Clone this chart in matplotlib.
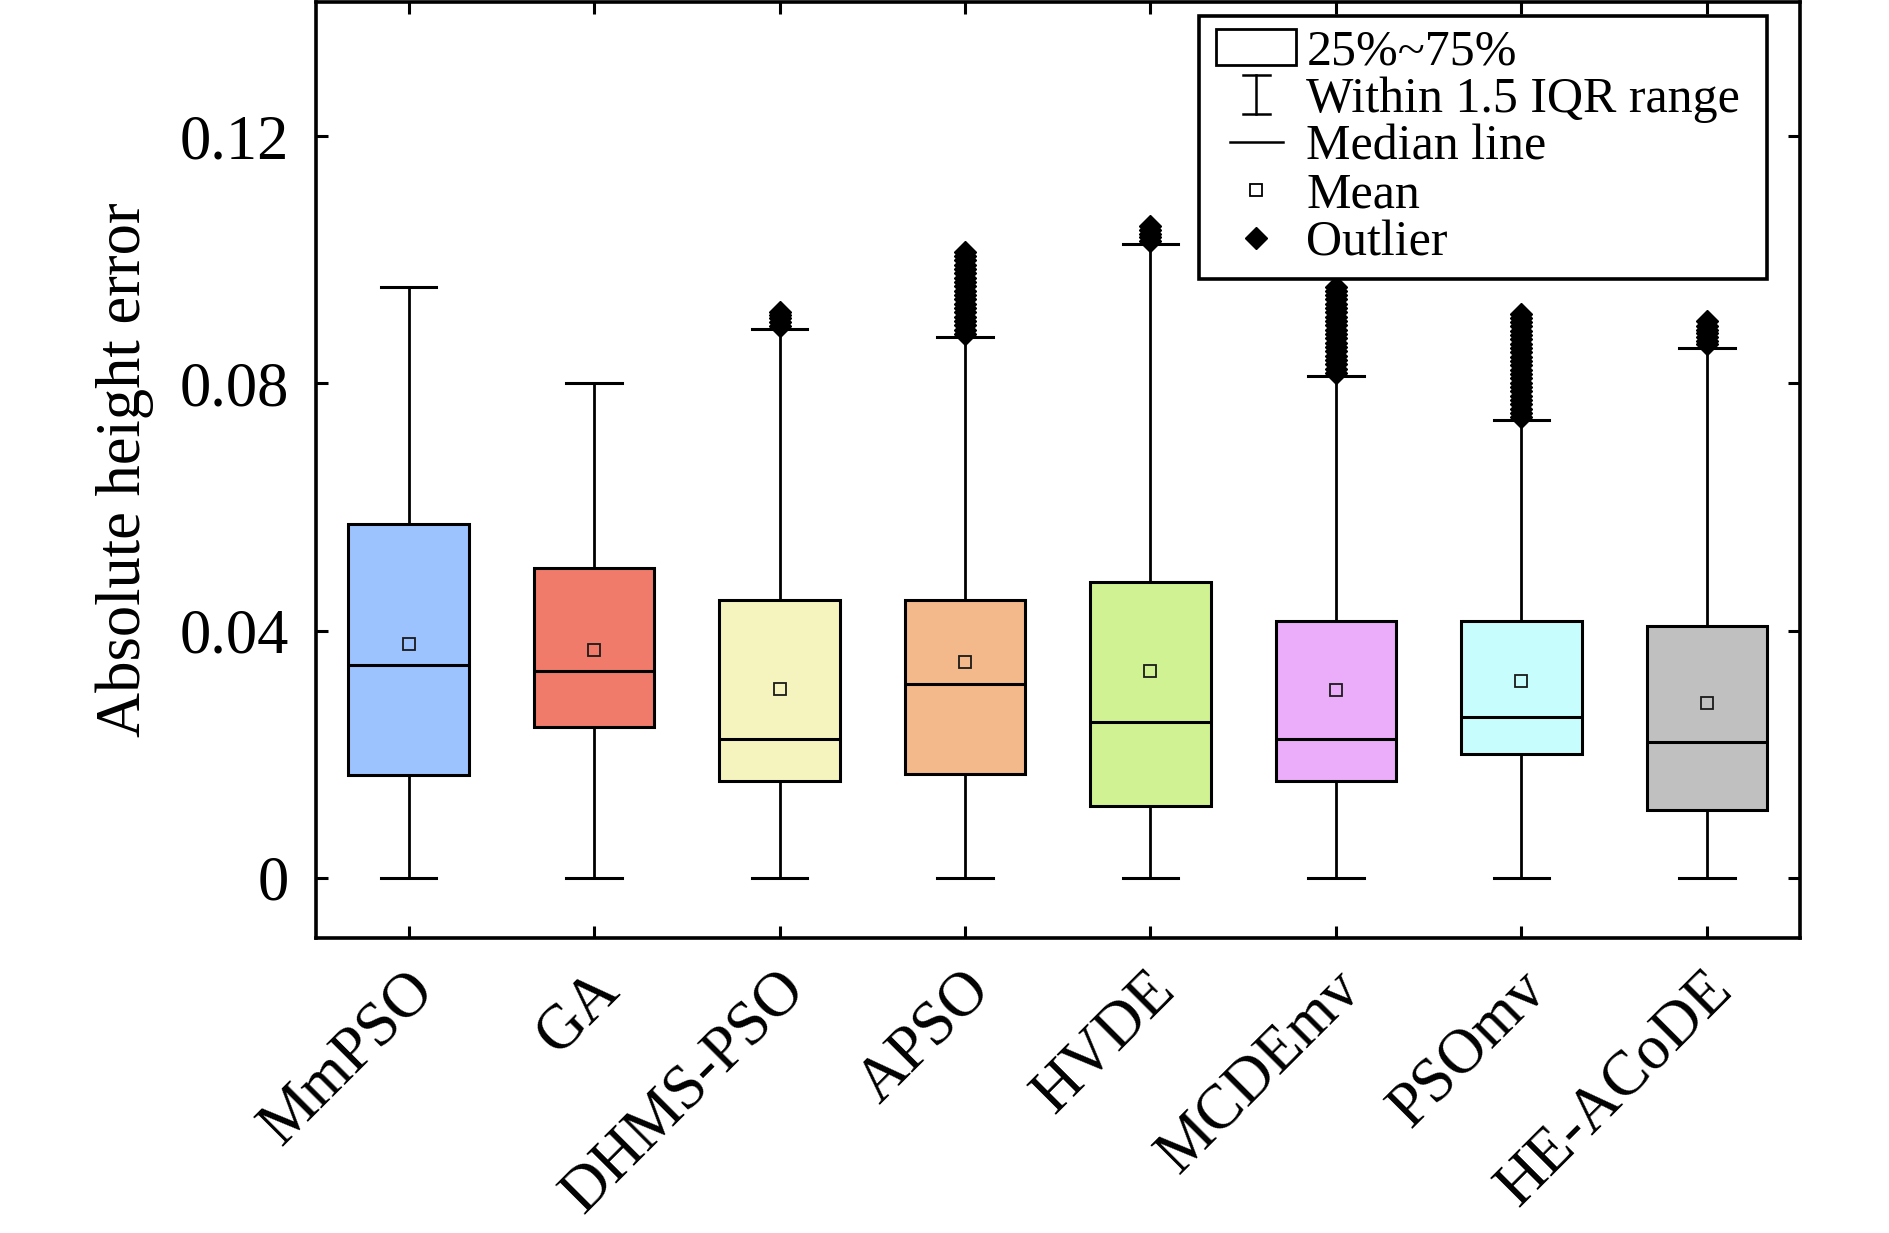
import matplotlib
matplotlib.use("Agg")
import matplotlib.pyplot as plt
from matplotlib.patches import Rectangle
from matplotlib.lines import Line2D
from matplotlib.legend_handler import HandlerBase
from matplotlib.transforms import ScaledTranslation

plt.rcParams['font.family'] = ['Liberation Serif', 'DejaVu Serif']

# ---------------- data ----------------
categories = ["MmPSO", "GA", "DHMS-PSO", "APSO", "HVDE", "MCDEmv", "PSOmv", "HE-ACoDE"]
q1      = [0.0166, 0.0244, 0.0156, 0.0168, 0.0117, 0.0156, 0.0201, 0.0109]
median  = [0.0345, 0.0334, 0.0224, 0.0314, 0.0252, 0.0224, 0.0261, 0.0219]
q3      = [0.0572, 0.0501, 0.0449, 0.0449, 0.0478, 0.0416, 0.0416, 0.0408]
whislo  = [0.0, 0.0, 0.0, 0.0, 0.0, 0.0, 0.0, 0.0]
whishi  = [0.0956, 0.0800, 0.0888, 0.0875, 0.1025, 0.0812, 0.0740, 0.0858]
means   = [0.0379, 0.0369, 0.0306, 0.0349, 0.0334, 0.0304, 0.0318, 0.0283]
outliers = [
    [],
    [],
    [0.0893, 0.0899, 0.0905, 0.0911, 0.0916],
    [0.0880, 0.0887, 0.0894, 0.0901, 0.0908, 0.0915, 0.0922, 0.0929, 0.0936,
     0.0943, 0.0950, 0.0957, 0.0964, 0.0971, 0.0978, 0.0985, 0.0992, 0.0999,
     0.1006, 0.1013],
    [0.1030, 0.1036, 0.1042, 0.1048, 0.1054],
    [0.0817, 0.0824, 0.0831, 0.0838, 0.0845, 0.0852, 0.0859, 0.0866, 0.0873,
     0.0880, 0.0887, 0.0894, 0.0901, 0.0908, 0.0915, 0.0922, 0.0929, 0.0936,
     0.0943, 0.0950, 0.0956],
    [0.0745, 0.0752, 0.0759, 0.0766, 0.0773, 0.0780, 0.0787, 0.0794, 0.0801,
     0.0808, 0.0815, 0.0822, 0.0829, 0.0836, 0.0843, 0.0850, 0.0857, 0.0864,
     0.0871, 0.0878, 0.0885, 0.0892, 0.0899, 0.0906, 0.0913],
    [0.0863, 0.0869, 0.0875, 0.0881, 0.0887, 0.0893, 0.0901],
]
colors = ["#9DC3FE", "#F07B6A", "#F6F4BE", "#F4B98A", "#D1F292", "#EBADFA", "#C8FDFE", "#C0C0C0"]
ytick_values = [0, 0.04, 0.08, 0.12]
ytick_labels = ["0", "0.04", "0.08", "0.12"]
ylabel = "Absolute height error"
legend_labels = ["25%~75%", "Within 1.5 IQR range", "Median line", "Mean", "Outlier"]

# ---------------- figure ----------------
fig = plt.figure(figsize=(18.9, 12.33), dpi=100)
ax = fig.add_axes([0.1671, 0.2394, 0.7851, 0.7590])

stats = []
for i in range(len(categories)):
    stats.append(dict(label=categories[i], q1=q1[i], med=median[i], q3=q3[i],
                      whislo=whislo[i], whishi=whishi[i], mean=means[i],
                      fliers=outliers[i]))

positions = list(range(1, len(categories) + 1))
bp = ax.bxp(stats, positions=positions, widths=0.65, capwidths=0.3,
            patch_artist=True, showmeans=True, showfliers=True,
            boxprops=dict(linewidth=2.2, edgecolor='black'),
            whiskerprops=dict(linewidth=2.0, color='black'),
            capprops=dict(linewidth=2.2, color='black'),
            medianprops=dict(linewidth=2.2, color='black'),
            meanprops=dict(marker='s', markersize=8, markerfacecolor='none',
                           markeredgecolor='#1a1a1a', markeredgewidth=1.3),
            flierprops=dict(marker='D', markersize=11, markerfacecolor='black',
                            markeredgecolor='black', linestyle='none'))
for patch, c in zip(bp['boxes'], colors):
    patch.set_facecolor(c)
for f in bp['fliers']:
    f.set_zorder(3)

ax.set_xlim(0.5, 8.5)
ax.set_ylim(-0.0097, 0.1417)
ax.set_yticks(ytick_values)
ax.set_yticklabels(ytick_labels)
ax.set_xticks(positions)
ax.set_xticklabels(categories, rotation=45, ha='right', va='center',
                   rotation_mode='anchor')

for s in ax.spines.values():
    s.set_linewidth(2.6)

ax.tick_params(axis='both', which='major', direction='in', length=8.6, width=2.2,
               top=True, right=True, labelsize=45)
ax.tick_params(axis='x', pad=31)
ax.tick_params(axis='y', pad=19.5)
ax.set_ylabel(ylabel, fontsize=45, labelpad=18.5)

offset = ScaledTranslation(0.16, 0, fig.dpi_scale_trans)
for lbl in ax.get_xticklabels():
    lbl.set_transform(lbl.get_transform() + offset)


# ---------------- legend ----------------
class KindHandle:
    def __init__(self, kind):
        self.kind = kind


class HandlerKind(HandlerBase):
    """Draws each legend symbol in the right part of the handle box."""
    def create_artists(self, legend, orig_handle, xdescent, ydescent,
                       width, height, fontsize, trans):
        half = 0.8 * fontsize
        cx = -xdescent + width - half
        y0 = -ydescent - 0.03 * fontsize
        y1 = -ydescent + height + 0.03 * fontsize
        cy = -ydescent + height / 2
        kind = orig_handle.kind
        arts = []
        if kind == 'box':
            arts.append(Rectangle((cx - half, -ydescent), 2 * half, height,
                                  facecolor='white', edgecolor='black',
                                  linewidth=2.0))
        elif kind == 'whisker':
            hw = 0.165 * 2 * half
            arts += [Line2D([cx, cx], [y0, y1], color='black', linewidth=1.8),
                     Line2D([cx - hw, cx + hw], [y0, y0], color='black', linewidth=1.8),
                     Line2D([cx - hw, cx + hw], [y1, y1], color='black', linewidth=1.8)]
        elif kind == 'median':
            hl = 0.53 * fontsize
            arts.append(Line2D([cx - hl, cx + hl], [cy, cy], color='black',
                               linewidth=1.8))
        elif kind == 'mean':
            arts.append(Line2D([cx], [cy], marker='s', markersize=8,
                               markerfacecolor='none', markeredgecolor='black',
                               markeredgewidth=1.3, linestyle='none'))
        elif kind == 'outlier':
            arts.append(Line2D([cx], [cy], marker='D', markersize=11,
                               markerfacecolor='black', markeredgecolor='black',
                               linestyle='none'))
        for a in arts:
            a.set_transform(trans)
        return arts


handles = [KindHandle(k) for k in ['box', 'whisker', 'median', 'mean', 'outlier']]

leg = ax.legend(handles, legend_labels,
                handler_map={KindHandle: HandlerKind()},
                loc='upper left', bbox_to_anchor=(0.5952, 0.5, 0.3828, 0.485),
                mode='expand',
                borderaxespad=0, fontsize=36, frameon=True, fancybox=False,
                handlelength=1.7, handleheight=0.75, handletextpad=0.2,
                labelspacing=0.02, borderpad=0.25)
leg.get_frame().set_edgecolor('black')
leg.get_frame().set_linewidth(2.6)
leg.get_frame().set_alpha(1)
leg.set_zorder(10)

fig.savefig("out.png", dpi=100)
